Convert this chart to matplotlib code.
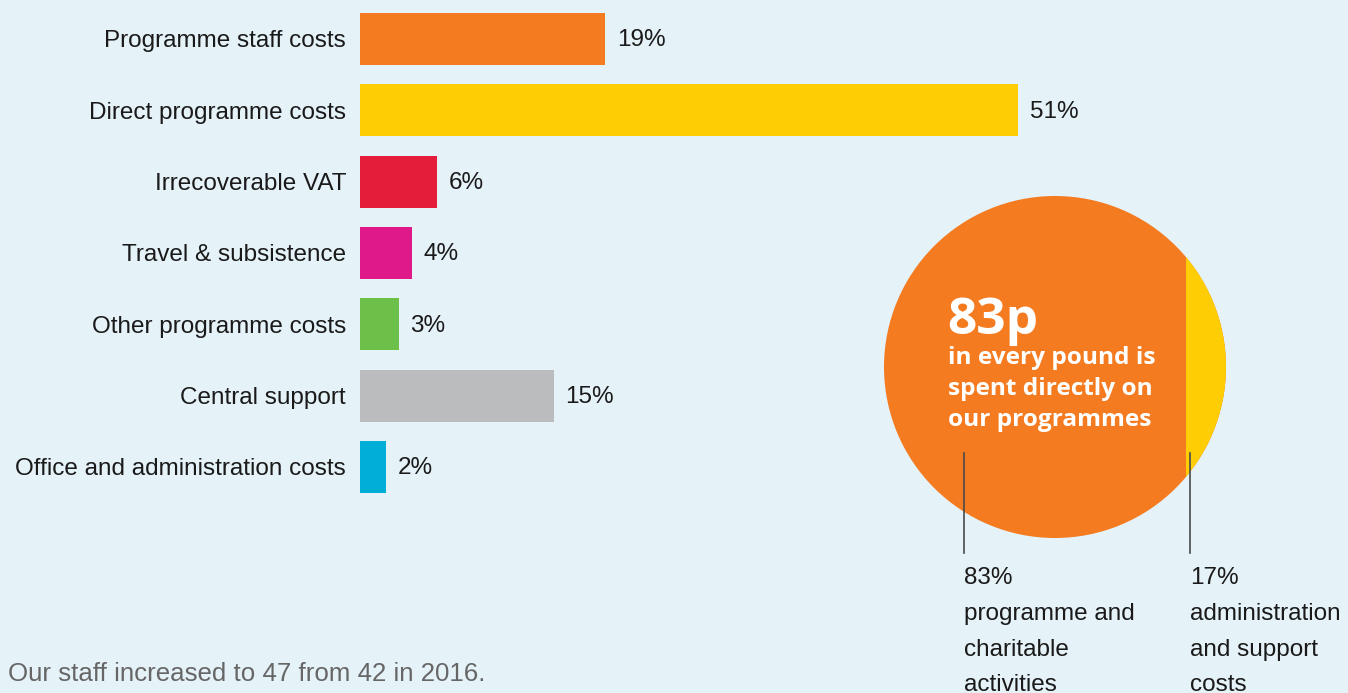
import matplotlib
matplotlib.use("Agg")
import matplotlib.pyplot as plt
from matplotlib.patches import Circle, Rectangle

# ---- data ----
categories = ["Programme staff costs", "Direct programme costs", "Irrecoverable VAT",
              "Travel & subsistence", "Other programme costs", "Central support",
              "Office and administration costs"]
values = [19, 51, 6, 4, 3, 15, 2]
bar_colors = ["#F47B20", "#FFCD03", "#E41E3A", "#E0198A", "#6CC04A", "#BBBCBE", "#00AED6"]
split_values = [83, 17]
split_labels = ["programme and\ncharitable\nactivities", "administration\nand support\ncosts"]
headline = "83p"
headline_sub = "in every pound is\nspent directly on\nour programmes"
footnote = "Our staff increased to 47 from 42 in 2016."

BG = "#E5F2F8"
W, H = 1348, 693
fig = plt.figure(figsize=(W / 100, H / 100), dpi=100, facecolor=BG)

# ---- bar chart ----
step = 71.33
top = 39 - step / 2
ax = fig.add_axes([360 / W, 1 - (top + 7 * step) / H, (W - 360) / W, 7 * step / H])
ax.set_facecolor("none")
ypos = list(range(len(categories)))
ax.barh(ypos, values, height=0.73, color=bar_colors, left=0)
ax.set_ylim(6.5, -0.5)
ax.set_xlim(0, (W - 360) / 12.9)
for s in ax.spines.values():
    s.set_visible(False)
ax.set_xticks([])
ax.set_yticks(ypos)
ax.set_yticklabels(categories, fontsize=17.5, color="#1a1a1a", family="Liberation Sans")
ax.tick_params(axis="y", length=0, pad=10)
for y, v in zip(ypos, values):
    ax.annotate(f"{v}%", (v, y), xytext=(8.5, -1), textcoords="offset points",
                va="center", ha="left", fontsize=17.5, color="#1a1a1a",
                family="Liberation Sans", xycoords="data")

# ---- circle graphic (figure pixel coords) ----
ov = fig.add_axes([0, 0, 1, 1])
ov.set_xlim(0, W)
ov.set_ylim(H, 0)
ov.axis("off")
ov.patch.set_alpha(0)
cx, cy, r = 1055, 367, 171
circ = Circle((cx, cy), r, facecolor=bar_colors[0], edgecolor="none")
ov.add_patch(circ)
chord_x = 1186
seg = Rectangle((chord_x, cy - r - 2), cx + r - chord_x + 2, 2 * r + 4,
                facecolor=bar_colors[1], edgecolor="none")
ov.add_patch(seg)
seg.set_clip_path(circ)

ov.text(947, 334, headline, color="white", fontsize=37, fontweight="bold",
        family="Open Sans", ha="left", va="baseline")
ov.text(948, 346, headline_sub, color="white", fontsize=17.6, fontweight="bold",
        family="Open Sans", ha="left", va="top", linespacing=1.38)

# leader lines and labels
for lx, pct, lab in [(964, split_values[0], split_labels[0]),
                     (1190, split_values[1], split_labels[1])]:
    ov.plot([lx, lx], [453, 553], color="#4a4a4a", lw=1.2)
    ov.text(lx, 567.5, f"{pct}%\n" + lab, fontsize=17.5, color="#1a1a1a",
            family="Liberation Sans", ha="left", va="top", linespacing=1.8)

ov.text(8, 674, footnote, fontsize=18.6, color="#666666", family="Liberation Sans",
        ha="left", va="center")

fig.savefig("out.png", dpi=100, facecolor=BG)
